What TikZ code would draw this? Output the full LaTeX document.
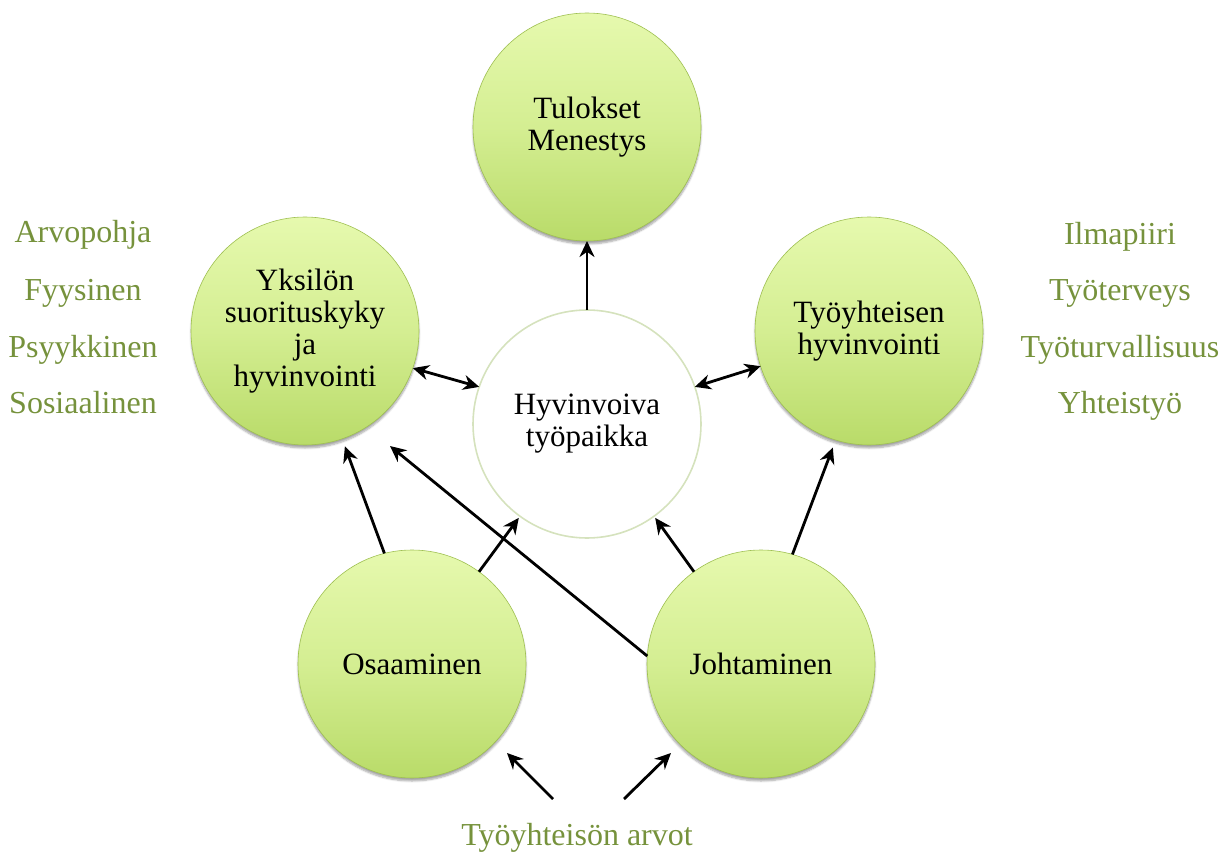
\documentclass[tikz,border=0pt]{standalone}
\usepackage{fontspec}
\setmainfont{Liberation Serif}
\usetikzlibrary{arrows.meta,shadows.blur}
\definecolor{lblgreen}{HTML}{76923C}
\definecolor{ctop}{HTML}{E6F9AE}
\definecolor{cmid}{HTML}{D4EE92}
\definecolor{cbot}{HTML}{B9DB69}
\definecolor{crim}{HTML}{9FC052}
\definecolor{hrim}{HTML}{D5E2BD}
\tikzset{
  ball/.style={circle, minimum size=228pt, inner sep=0pt, outer sep=0pt, align=center,
    top color=ctop, bottom color=cbot, middle color=cmid, draw=crim, line width=0.6pt,
    font=\fontsize{31}{32}\selectfont, text=black,
    blur shadow={shadow xshift=0pt, shadow yshift=-3pt, shadow blur steps=6, shadow opacity=35}},
  hub/.style={circle, minimum size=228pt, inner sep=0pt, outer sep=0pt, align=center,
    fill=white, draw=hrim, line width=1.6pt,
    font=\fontsize{31}{32}\selectfont, text=black},
  lbl/.style={font=\fontsize{32}{32}\selectfont, text=lblgreen, anchor=base, inner sep=0pt},
  arr/.style={line width=2.8pt, -{Stealth[length=16pt, width=15pt]}},
  darr/.style={line width=2.8pt, {Stealth[length=16pt, width=15pt]}-{Stealth[length=16pt, width=15pt]}}
}
\begin{document}
\begin{tikzpicture}[x=1pt, y=-1pt]
\useasboundingbox (0,0) rectangle (1232,853);

\node[ball] (T) at (587,127) {Tulokset\\Menestys};
\node[ball] (Y) at (305,331) {Yksilön\\suorituskyky\\ja\\hyvinvointi};
\node[ball] (W) at (869,331) {Työyhteisen\\hyvinvointi};
\node[hub]  (H) at (587,424) {Hyvinvoiva\\työpaikka};
\node[ball] (O) at (412,664) {Osaaminen};
\node[ball] (J) at (761,664) {Johtaminen};

\node[lbl] (l1) at (83,243) {Arvopohja};
\node[lbl] (l2) at (83,300) {Fyysinen};
\node[lbl] (l3) at (83,357) {Psyykkinen};
\node[lbl] (l4) at (83,413) {Sosiaalinen};

\node[lbl] (r1) at (1120,244) {Ilmapiiri};
\node[lbl] (r2) at (1120,300) {Työterveys};
\node[lbl] (r3) at (1120,357) {Työturvallisuus};
\node[lbl] (r4) at (1120,413) {Yhteistyö};

\node[lbl] (B) at (577,845) {Työyhteisön arvot};

\coordinate (jy) at (390,446);
\coordinate (b1s) at (553,799);
\coordinate (b1e) at (507,753);
\coordinate (b2s) at (624,799);
\coordinate (b2e) at (671,753);

\draw[arr] (H.90) -- (T.270);
\draw[darr] (Y.341) -- (H.161);
\draw[darr] (H.19) -- (W.198);
\draw[arr, shorten >=8pt] (O.104) -- (Y.289);
\draw[arr, shorten >=2pt] (O.54) -- (H.234);
\draw[arr, shorten >=2pt] (J.126) -- (H.306);
\draw[arr, shorten >=8pt] (J.74) -- (W.253);
\draw[arr] (J.176.5) -- (jy);
\draw[arr] (b1s) -- (b1e);
\draw[arr] (b2s) -- (b2e);
\end{tikzpicture}
\end{document}
